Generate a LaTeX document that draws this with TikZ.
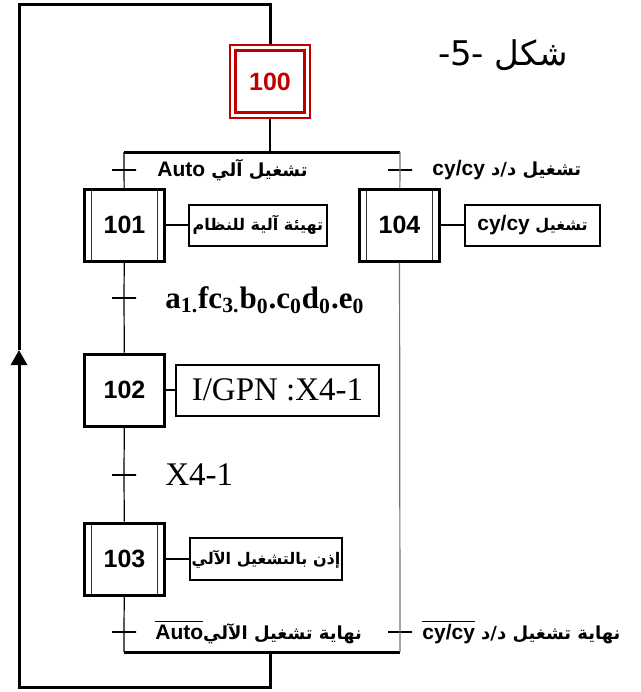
\documentclass[tikz,border=0pt]{standalone}
\usepackage{fontspec}
\setmainfont{Liberation Sans}
\newfontfamily\timesfont{Liberation Serif}
\newfontfamily\arabicfont[Script=Arabic]{DejaVu Sans}
\TeXXeTstate=1
\usetikzlibrary{arrows.meta}
\definecolor{initred}{HTML}{C00000}
\newcommand{\lat}[1]{{\rmfamily\fontsize{10.5}{12}\selectfont #1}}

\begin{document}
\begin{tikzpicture}[x=0.5pt,y=-0.5pt]
	\tikzstyle{stepbox}=[draw=black,line width=1.5pt,minimum width=40pt,minimum height=36pt,inner sep=0pt,font=\fontsize{12.5}{14}\selectfont\bfseries]
	\tikzstyle{macrostep}=[stepbox,path picture={
		\draw[line width=0.6pt,black!80] ([xshift=3.5pt]path picture bounding box.north west) -- ([xshift=3.5pt]path picture bounding box.south west)
		([xshift=-3.5pt]path picture bounding box.north east) -- ([xshift=-3.5pt]path picture bounding box.south east);}]
	\tikzstyle{initstep}=[draw=initred,text=initred,line width=1.2pt,double=white,double distance=1.5pt,outer sep=1.95pt,minimum width=37.1pt,minimum height=33.6pt,inner sep=0pt,font=\fontsize{12.5}{14}\selectfont\bfseries]
	\tikzstyle{action}=[draw=black,line width=1pt,inner sep=0pt,font=\arabicfont\bfseries\fontsize{8}{10}\selectfont]
	\tikzstyle{trans}=[draw=black,line width=0.8pt,minimum width=12pt,minimum height=0pt,inner sep=0pt,outer sep=0pt]
	\tikzstyle{arlbl}=[anchor=west,inner sep=0pt,font=\arabicfont\bfseries\fontsize{9}{11}\selectfont]
	\tikzstyle{thinline}=[line width=0.6pt,black]
	\tikzstyle{grayline}=[line width=0.6pt,black!55]
	\tikzstyle{barline}=[line width=1.5pt,black]
	\tikzstyle{loopline}=[line width=1.5pt,black]
	\useasboundingbox (0,0) rectangle (641,692);
	% steps
	\node[initstep] (100) at (270,81.5) {100};
	\node[macrostep] (101) at (124.5,225) {101};
	\node[macrostep] (104) at (399.5,225) {104};
	\node[stepbox] (102) at (124.5,390) {102};
	\node[macrostep] (103) at (124.5,559) {103};
	% actions
	\node[action,minimum width=69pt,minimum height=20.5pt] (a101) at (258,225) {\beginR تهيئة آلية للنظام\endR};
	\node[action,minimum width=67.5pt,minimum height=20.5pt] (a104) at (532.5,225) {\beginR تشغيل \beginL\lat{cy/cy}\endL\endR};
	\node[action,minimum width=101.5pt,minimum height=25.5pt,font=\timesfont\fontsize{16.5}{19}\selectfont] (a102) at (277.5,390) {I/GPN :X4-1};
	\node[action,minimum width=76pt,minimum height=21pt] (a103) at (266,559) {\beginR إذن بالتشغيل الآلي\endR};
	\draw[line width=1pt] (101) -- (a101);
	\draw[line width=1pt] (104) -- (a104);
	\draw[line width=1pt] (102) -- (a102);
	\draw[line width=1pt] (103) -- (a103);
	% transitions
	\node[trans] (t1) at (124,170) {};
	\node[trans] (t4) at (400,170) {};
	\node[trans] (t2) at (124,298) {};
	\node[trans] (t3) at (124,475) {};
	\node[trans] (t5) at (124,632) {};
	\node[trans] (t6) at (400,632) {};
	\node[arlbl] (r1) at (157,170) {\beginR تشغيل  آلي \beginL\lat{Auto}\endL\endR};
	\node[arlbl] (r4) at (432,170) {\beginR تشغيل د/د \beginL\lat{cy/cy}\endL\endR};
	\node[anchor=west,inner sep=0pt,font=\timesfont\bfseries\fontsize{15.5}{18}\selectfont] (r2) at (165,300) {a\textsubscript{1.}fc\textsubscript{3.}b\textsubscript{0}.c\textsubscript{0}d\textsubscript{0}.e\textsubscript{0}};
	\node[anchor=west,inner sep=0pt,font=\timesfont\fontsize{16.5}{19}\selectfont] (r3) at (165,475) {X4-1};
	\node[arlbl] (r5) at (155,632) {\beginR نهاية تشغيل الآلي\beginL$\overline{\hbox{\lat{Auto}}}$\endL\endR};
	\node[arlbl] (r6) at (422,632) {\beginR نهاية تشغيل د/د \beginL$\overline{\hbox{\lat{cy/cy}}}$\endL\endR};
	\node[font=\arabicfont\fontsize{17}{20}\selectfont] (title) at (503,55) {\beginR شكل \beginL-5-\endL\endR};
	% divergence and convergence
	\coordinate (d1) at (124,152);
	\coordinate (d2) at (400,152);
	\coordinate (dv) at (270,152);
	\coordinate (c1) at (124,652);
	\coordinate (c2) at (400,652);
	\coordinate (cv) at (270,652);
	\draw[barline] (d1) -- (d2);
	\draw[barline] (c1) -- (c2);
	\draw[line width=1.2pt] (100) -- (dv);
	\draw[thinline] (d1) -- (t1.center) -- (101);
	\draw[thinline] (101) -- (t2.center) -- (102);
	\draw[thinline] (102) -- (t3.center) -- (103);
	\draw[thinline] (103) -- (t5.center) -- (c1);
	\draw[grayline] (d2) -- (t4.center) -- (104);
	\draw[grayline] (104) -- (t6.center) -- (c2);
	% loop back
	\coordinate (lb) at (270,687);
	\coordinate (lbl) at (19,687);
	\coordinate (la) at (19,350);
	\coordinate (ltl) at (19,4);
	\coordinate (lt) at (270,4);
	\draw[loopline,-{Triangle[length=7.5pt,width=8pt]}] (cv) -- (lb) -- (lbl) -- (la);
	\draw[loopline] (la) -- (ltl) -- (lt) -- (100);
\end{tikzpicture}
\end{document}
